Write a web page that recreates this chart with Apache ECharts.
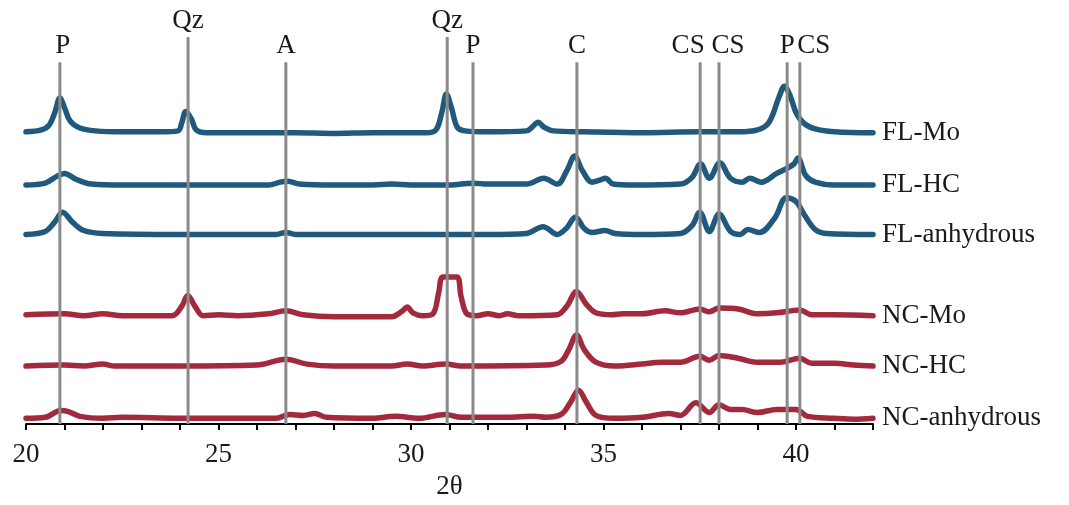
<!DOCTYPE html>
<html>
<head>
<meta charset="utf-8">
<script src="https://cdn.jsdelivr.net/npm/echarts@6/dist/echarts.min.js"></script>
<style>
html,body{margin:0;padding:0;background:#fff;overflow:hidden;width:1069px;height:505px;}
#chart{position:absolute;left:0;top:0;width:1069px;height:505px;}
</style>
</head>
<body>
<div id="chart"></div>
<script>
// ---- DATA ----
const seriesNames = ['FL-Mo', 'FL-HC', 'FL-anhydrous', 'NC-Mo', 'NC-HC', 'NC-anhydrous'];
// vertical stacking offsets (intensity units) for each pattern
const seriesOffsets = [75.5, 61.75, 49, 28, 15, 1.5];

// [2θ, relative intensity]
const flMo = [[20,0],[20.4,0.5],[20.6,1.75],[20.75,5],[20.88,8.75],[21.0,6.25],[21.15,2.75],[21.4,1],[21.8,0.25],[22.5,0],[23.5,0],[23.95,0.25],[24.05,2.5],[24.15,5.25],[24.3,3.25],[24.42,0.5],[24.7,-0.25],[26,-0.25],[27,-0.25],[28,-0.4],[29,-0.25],[30.4,-0.25],[30.65,0.5],[30.8,5],[30.92,9.75],[31.05,6.25],[31.2,1.25],[31.4,0.25],[32,0],[33.0,0.25],[33.15,1.25],[33.3,2.5],[33.45,1.25],[33.7,0.25],[34.5,0],[36,-0.25],[37.5,0],[38.5,0],[39.0,0.5],[39.3,2.5],[39.55,8.75],[39.7,11.75],[39.85,9.25],[40.0,5],[40.2,2.25],[40.5,0.75],[41,0],[42,-0.25]];
const flHC = [[20,0],[20.5,0.5],[20.8,2.25],[21.0,3],[21.3,1.5],[21.7,0.25],[22.5,0],[24,0],[26.3,0],[26.6,0.75],[26.8,1],[27.1,0.25],[28,0],[29,0],[29.5,0.25],[30,0],[31,0],[31.6,0.5],[32,0.25],[33,0.25],[33.45,1.75],[33.8,0.25],[34.05,3.75],[34.25,7.5],[34.45,3.75],[34.7,0.75],[34.9,1.25],[35.05,1.75],[35.25,0.25],[35.8,0],[37.0,0.25],[37.3,2],[37.52,5.5],[37.75,1.75],[38.02,5.75],[38.3,1.75],[38.6,0.75],[38.8,1.75],[39.1,0.75],[39.5,3],[39.8,4.5],[39.95,5.5],[40.05,7],[40.25,2.5],[40.5,0.75],[41,0],[42,0]];
const flAnh = [[20,0],[20.5,0.75],[20.75,3.25],[20.95,5.75],[21.2,3.25],[21.5,1],[22,0.25],[24,0],[26.5,0],[26.75,0.5],[27,0],[30,0],[32,0],[33.0,0.25],[33.43,2],[33.8,0],[34.05,1.75],[34.27,4.5],[34.5,1.5],[34.7,0.5],[35.04,1],[35.3,0.25],[36,0],[37.0,0.25],[37.3,2.25],[37.5,5.75],[37.75,0.75],[38.0,5.25],[38.3,0.75],[38.55,0],[38.75,1.25],[39.05,0.5],[39.45,4.25],[39.75,9.5],[40.0,8.5],[40.22,5],[40.5,1.25],[40.8,0.25],[42,0]];
const ncMo = [[20,0.25],[21.0,0.5],[21.5,0],[22.0,0.5],[22.5,0],[23.8,0],[24.05,2.5],[24.2,5.25],[24.4,2.25],[24.6,0],[25.0,0.25],[25.5,0],[26.3,0.5],[26.75,1.25],[27.2,0.25],[28,-0.25],[29.5,-0.25],[29.78,1.25],[29.9,2.25],[30.05,0.75],[30.3,0],[30.57,0.5],[30.72,6],[30.83,10],[31.19,10],[31.3,5],[31.45,0.5],[31.7,0],[32.0,0.5],[32.3,0],[32.5,0.5],[32.8,0],[33.8,0.25],[34.05,2.5],[34.3,6.25],[34.55,3],[34.8,0.75],[35.2,0.25],[35.5,0.5],[36.0,0.5],[36.6,1.25],[37.0,0.75],[37.5,1.75],[37.75,1],[38.0,2],[38.5,1.75],[39.0,0.5],[39.5,0.75],[40.1,1.5],[40.4,0.25],[41,0.25],[42,0]];
const ncHC = [[20,0],[21.0,0.25],[21.5,0],[22.0,0.5],[22.3,0],[24,0],[26.0,0.25],[26.75,1.75],[27.3,0.5],[28,0],[29.5,0],[29.9,0.5],[30.3,0],[30.9,0.5],[31.3,0],[33.5,0.25],[33.9,1.25],[34.1,4.25],[34.3,8],[34.5,4.25],[34.8,1],[35.3,0],[36,0.5],[36.5,1],[37.0,1],[37.5,2.5],[37.75,1.5],[38.0,2.75],[38.5,2],[39.0,1],[39.6,1],[40.1,2],[40.4,0.75],[41.0,0.75],[41.5,0.25],[42,0]];
const ncAnh = [[20,0],[20.5,0.25],[20.9,2],[21.1,1.75],[21.4,0.5],[22,0],[22.5,0.25],[24,0],[26.5,0],[26.85,1],[27.2,0.75],[27.5,1.25],[27.8,0.25],[29,0],[29.6,0.5],[30.2,0],[30.9,1],[31.3,0.25],[32.5,0.25],[33.2,0.5],[33.5,0.25],[33.9,1],[34.15,4.25],[34.35,7.25],[34.55,4.25],[34.8,0.75],[35.3,0],[36.0,0.25],[36.7,1.25],[37.0,0.75],[37.4,4],[37.75,1.5],[38.0,3.5],[38.3,2.25],[38.6,2.25],[39.0,1.5],[39.5,2.25],[40.0,2.25],[40.3,0.5],[41.0,0],[41.5,-0.25],[42,0]];
const seriesData = [flMo, flHC, flAnh, ncMo, ncHC, ncAnh];

// reference peak lines
const peakLabels = ['P', 'Qz', 'A', 'Qz', 'P', 'C', 'CS', 'CS', 'P', 'CS'];
const peakPositions = [20.88, 24.21, 26.75, 30.94, 31.61, 34.31, 37.51, 38.0, 39.77, 40.1];
const peakLineTops = [93.5, 100, 93.5, 100, 93.5, 93.5, 93.5, 93.5, 93.5, 93.5];

const xTickLabels = [20, 25, 30, 35, 40];

// ---- STYLE ----
const serif = "'Liberation Serif', 'Times New Roman', serif";
const colors = ['#1f5a7e', '#1f5a7e', '#1f5a7e', '#a3293d', '#a3293d', '#a3293d'];
const labelShift = {6: -12, 7: 9, 9: 14, 0: 3};

const series = seriesNames.map((name, i) => ({
  name: name,
  type: 'line',
  data: seriesData[i].map(p => [p[0], p[1] + seriesOffsets[i]]),
  smooth: 0.35,
  showSymbol: false,
  symbol: 'none',
  z: 2,
  lineStyle: {color: colors[i], width: 5.5, cap: 'round', join: 'round'},
  endLabel: {
    show: true,
    formatter: '{a}',
    distance: 9,
    color: '#1a1a1a',
    fontFamily: serif,
    fontSize: 27
  }
}));

peakPositions.forEach((x, i) => {
  series.push({
    type: 'line',
    data: [[x, peakLineTops[i]], [x, 0]],
    showSymbol: false,
    symbol: 'none',
    z: 5,
    silent: true,
    lineStyle: {color: '#8a8a8a', width: 3}
  });
});

series.push({
  type: 'scatter',
  symbolSize: 0,
  clip: false,
  z: 6,
  silent: true,
  itemStyle: {opacity: 1},
  data: peakPositions.map((x, i) => ({
    value: [x, peakLineTops[i]],
    label: {
      show: true,
      position: 'top',
      distance: 3,
      offset: [labelShift[i] || 0, 0],
      formatter: peakLabels[i],
      color: '#1a1a1a',
      opacity: 1,
      fontFamily: serif,
      fontSize: 27
    }
  }))
});

const el = document.getElementById('chart');
const chart = echarts.init(el, null, {renderer: 'canvas', width: 1069, height: 505});
chart.setOption({
  animation: false,
  backgroundColor: '#ffffff',
  grid: {left: 26, right: 196, top: 37, bottom: 68, containLabel: false},
  xAxis: {
    type: 'value',
    min: 20,
    max: 42,
    interval: 1,
    name: '2θ',
    nameLocation: 'middle',
    nameGap: 44,
    nameTextStyle: {color: '#1a1a1a', fontFamily: serif, fontSize: 27},
    axisLine: {lineStyle: {color: '#000', width: 2}},
    axisTick: {show: true, length: 6, lineStyle: {color: '#000', width: 2}},
    axisLabel: {
      margin: 17,
      color: '#1a1a1a',
      fontFamily: serif,
      fontSize: 27,
      showMinLabel: true,
      showMaxLabel: true,
      hideOverlap: false,
      formatter: v => xTickLabels.indexOf(v) >= 0 ? String(v) : ''
    },
    splitLine: {show: false}
  },
  yAxis: {
    type: 'value',
    min: 0,
    max: 100,
    show: false
  },
  series: series
});
</script>
</body>
</html>
